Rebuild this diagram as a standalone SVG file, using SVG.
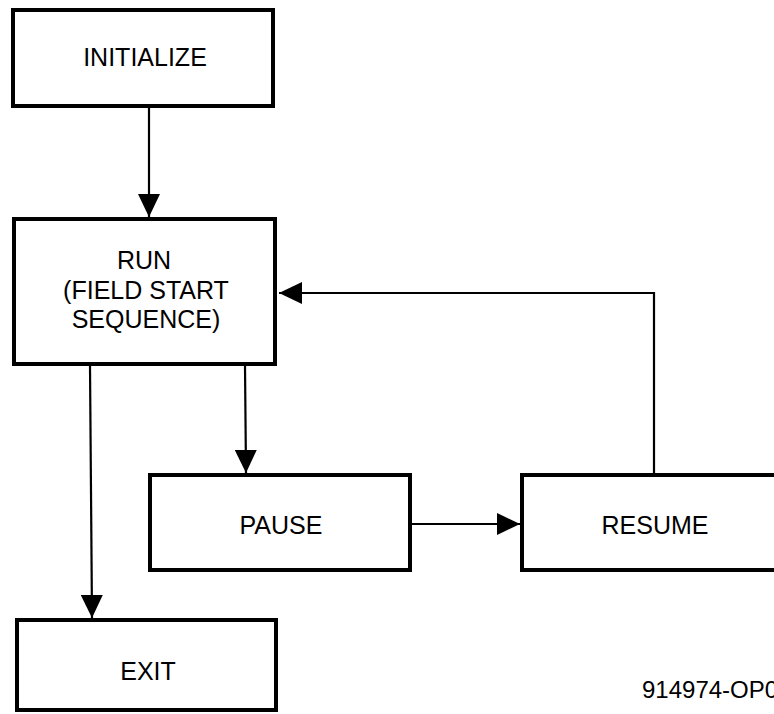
<svg xmlns="http://www.w3.org/2000/svg" width="774" height="714" viewBox="0 0 774 714">
<defs>
<style>
.box{fill:#fff;stroke:#000;stroke-width:4}
.lbl{font-family:"Liberation Sans",Arial,Helvetica,sans-serif;font-size:25px;fill:#000;text-anchor:middle}
.con{fill:none;stroke:#000;stroke-width:2.2}
</style>
<marker id="ah" markerUnits="userSpaceOnUse" markerWidth="24" markerHeight="22" refX="23" refY="11" orient="auto">
<path d="M0,0 L23,11 L0,22 z" fill="#000"/>
</marker>
</defs>
<rect width="774" height="714" fill="#fff"/>
<g id="connectors">
<line class="con" x1="149" y1="108" x2="149" y2="217" marker-end="url(#ah)"/>
<line class="con" x1="90" y1="366" x2="92" y2="618" marker-end="url(#ah)"/>
<line class="con" x1="245" y1="366" x2="246" y2="473" marker-end="url(#ah)"/>
<line class="con" x1="412" y1="524" x2="520" y2="524" marker-end="url(#ah)"/>
<polyline class="con" points="654,473 654,293 279,293" marker-end="url(#ah)"/>
</g>
<g id="initialize">
<rect class="box" x="13" y="10" width="260" height="96"/>
<text class="lbl" x="145" y="66">INITIALIZE</text>
</g>
<g id="run">
<rect class="box" x="14" y="219" width="261" height="145"/>
<text class="lbl" x="144" y="269">RUN</text>
<text class="lbl" x="146" y="299">(FIELD START</text>
<text class="lbl" x="146" y="328">SEQUENCE)</text>
</g>
<g id="pause">
<rect class="box" x="150" y="475" width="260" height="95"/>
<text class="lbl" x="281" y="534">PAUSE</text>
</g>
<g id="resume">
<rect class="box" x="522" y="475" width="264" height="95"/>
<text class="lbl" x="655" y="534">RESUME</text>
</g>
<g id="exit">
<rect class="box" x="17" y="620" width="259" height="90"/>
<text class="lbl" x="148" y="680">EXIT</text>
</g>
<text x="642" y="698" font-family="'Liberation Sans',Arial,sans-serif" font-size="24" fill="#000">914974-OP0</text>
</svg>
